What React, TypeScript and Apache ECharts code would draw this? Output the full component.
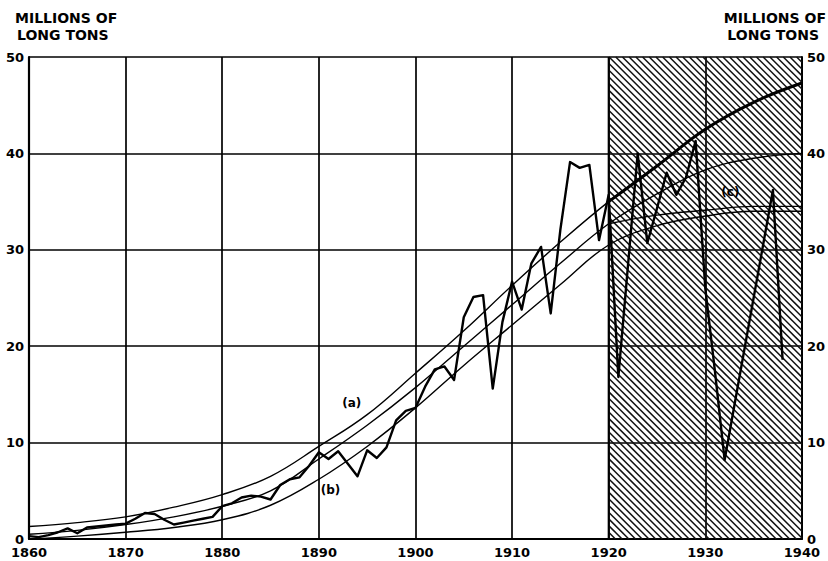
import React, { useEffect, useRef } from 'react';
import * as echarts from 'echarts';

// ---- data ----
const years = [
  1860, 1861, 1862, 1863, 1864, 1865, 1866, 1867, 1868, 1869,
  1870, 1871, 1872, 1873, 1874, 1875, 1876, 1877, 1878, 1879,
  1880, 1881, 1882, 1883, 1884, 1885, 1886, 1887, 1888, 1889,
  1890, 1891, 1892, 1893, 1894, 1895, 1896, 1897, 1898, 1899,
  1900, 1901, 1902, 1903, 1904, 1905, 1906, 1907, 1908, 1909,
  1910, 1911, 1912, 1913, 1914, 1915, 1916, 1917, 1918, 1919,
  1920, 1921, 1922, 1923, 1924, 1925, 1926, 1927, 1928, 1929,
  1930, 1931, 1932, 1933, 1934, 1935, 1936, 1937, 1938,
];
const tonnage = [
  0.3, 0.2, 0.4, 0.7, 1.1, 0.6, 1.2, 1.3, 1.4, 1.5,
  1.6, 2.1, 2.7, 2.6, 2.0, 1.5, 1.7, 1.9, 2.1, 2.3,
  3.4, 3.7, 4.3, 4.5, 4.4, 4.1, 5.6, 6.2, 6.4, 7.6,
  9.0, 8.3, 9.1, 7.8, 6.5, 9.2, 8.4, 9.5, 12.3, 13.3,
  13.6, 15.8, 17.6, 17.9, 16.5, 23.0, 25.1, 25.3, 15.6, 22.5,
  26.7, 23.8, 28.6, 30.3, 23.4, 32.1, 39.1, 38.5, 38.8, 31.0,
  35.7, 16.8, 28.4, 40.0, 30.7, 34.3, 38.0, 35.7, 37.5, 41.3,
  26.0, 17.4, 8.2, 13.8, 19.4, 25.0, 30.6, 36.2, 18.6,
];

const curveYears = [1860, 1865, 1870, 1875, 1880, 1885, 1890, 1895, 1900, 1905, 1910, 1915, 1920, 1925, 1930, 1935, 1940];
const curveA = [1.3, 1.7, 2.3, 3.3, 4.6, 6.5, 9.6, 12.9, 17.2, 21.6, 26.3, 30.8, 35.0, 38.7, 42.5, 45.3, 47.3];
const curveMid = [0.5, 0.9, 1.5, 2.3, 3.4, 5.0, 8.3, 11.8, 15.7, 20.0, 24.3, 28.6, 32.7, 35.8, 38.3, 39.5, 40.0];
const curveB = [0.0, 0.3, 0.7, 1.2, 2.0, 3.5, 6.2, 9.6, 13.6, 18.0, 22.2, 26.4, 30.5, 32.5, 33.5, 34.0, 34.0];
const branchYears = [1920, 1925, 1930, 1935, 1940];
const curveC = [32.7, 33.6, 34.1, 34.5, 34.5];

const hatchRange = [1920, 1940];
const xTicks = { min: 1860, max: 1940, step: 10 };
const yTicks = { min: 0, max: 50, step: 10 };

const annotations: [number, number, string][] = [
  [1893.4, 14.1, '(a)'],
  [1891.2, 5.1, '(b)'],
  [1932.6, 36.0, '(c)'],
];

const FONT = '"DejaVu Sans", "Liberation Sans", sans-serif';

const pairs = (xs: number[], ys: number[]) => xs.map((x, i) => [x, ys[i]]);

export default function App() {
  const ref = useRef<HTMLDivElement>(null);

  useEffect(() => {
    if (!ref.current) return;
    const chart = echarts.init(ref.current, null, { renderer: 'svg' });

    const axisLabel = {
      color: '#000',
      fontFamily: FONT,
      fontWeight: 'bold' as const,
      fontSize: 13,
    };

    const curveStyle = (w: number) => ({ color: '#000', width: w });

    const option: any = {
      animation: false,
      backgroundColor: '#fff',
      grid: { left: 29, right: 25, top: 57, bottom: 22, containLabel: false },
      xAxis: {
        type: 'value',
        min: xTicks.min,
        max: xTicks.max,
        interval: xTicks.step,
        axisLine: { show: true, onZero: false, lineStyle: { color: '#000', width: 2 } },
        axisTick: { show: false },
        splitLine: { show: true, lineStyle: { color: '#000', width: 1.7 } },
        axisLabel: { ...axisLabel, margin: 7, formatter: (v: number) => String(v) },
      },
      yAxis: [
        {
          type: 'value',
          position: 'left',
          min: yTicks.min,
          max: yTicks.max,
          interval: yTicks.step,
          axisLine: { show: true, lineStyle: { color: '#000', width: 2.2 } },
          axisTick: { show: false },
          splitLine: { show: true, lineStyle: { color: '#000', width: 1.7 } },
          axisLabel: { ...axisLabel, margin: 5, padding: [0, 0, 3, 0] },
        },
        {
          type: 'value',
          position: 'right',
          min: yTicks.min,
          max: yTicks.max,
          interval: yTicks.step,
          axisLine: { show: true, lineStyle: { color: '#000', width: 2 } },
          axisTick: { show: false },
          splitLine: { show: false },
          axisLabel: { ...axisLabel, margin: 5, padding: [0, 0, 3, 0] },
        },
      ],
      graphic: [
        { type: 'text', left: 15, top: 11, style: { text: 'MILLIONS OF', font: `bold 14px ${FONT}`, fill: '#000' } },
        { type: 'text', left: 17, top: 28, style: { text: 'LONG TONS', font: `bold 14px ${FONT}`, fill: '#000' } },
        { type: 'text', right: 2, top: 11, style: { text: 'MILLIONS OF', font: `bold 14px ${FONT}`, fill: '#000' } },
        { type: 'text', right: 9, top: 28, style: { text: 'LONG TONS', font: `bold 14px ${FONT}`, fill: '#000' } },
      ],
      series: [
        {
          type: 'custom',
          name: 'hatch',
          silent: true,
          z: 1,
          clip: false,
          encode: { x: [0, 1] },
          data: [hatchRange],
          renderItem: (params: any, api: any) => {
            const p1 = api.coord([api.value(0), yTicks.max]);
            const p2 = api.coord([api.value(1), yTicks.min]);
            const L = p1[0], T = p1[1], R = p2[0], B = p2[1];
            const H = B - T;
            const step = 6.7;
            const children: any[] = [];
            for (let c = L - H; c < R; c += step) {
              const x1 = Math.max(L, c);
              const x2 = Math.min(R, c + H);
              if (x2 <= x1) continue;
              children.push({
                type: 'line',
                shape: { x1, y1: T + (x1 - c), x2, y2: T + (x2 - c) },
                style: { stroke: '#111', lineWidth: 1.5 },
              });
            }
            children.push({
              type: 'line',
              shape: { x1: L, y1: T, x2: L, y2: B },
              style: { stroke: '#000', lineWidth: 2 },
            });
            return { type: 'group', children };
          },
        },
        {
          type: 'line',
          name: 'curve a',
          z: 3,
          data: pairs(curveYears, curveA),
          smooth: 0.4,
          showSymbol: false,
          lineStyle: curveStyle(1.4),
        },
        {
          type: 'line',
          name: 'curve a projection',
          z: 3,
          data: pairs(curveYears, curveA).filter((p) => p[0] >= hatchRange[0]),
          smooth: 0.4,
          showSymbol: false,
          lineStyle: curveStyle(3),
        },
        {
          type: 'line',
          name: 'middle curve',
          z: 3,
          data: pairs(curveYears, curveMid),
          smooth: 0.4,
          showSymbol: false,
          lineStyle: curveStyle(1.4),
        },
        {
          type: 'line',
          name: 'curve b',
          z: 3,
          data: pairs(curveYears, curveB),
          smooth: 0.4,
          showSymbol: false,
          lineStyle: curveStyle(1.4),
        },
        {
          type: 'line',
          name: 'curve c',
          z: 3,
          data: pairs(branchYears, curveC),
          smooth: 0.4,
          showSymbol: false,
          lineStyle: curveStyle(1.4),
        },
        {
          type: 'line',
          name: 'consumption',
          z: 4,
          data: pairs(years, tonnage),
          showSymbol: false,
          lineStyle: { color: '#000', width: 2.4, join: 'round' },
        },
        {
          type: 'scatter',
          name: 'labels',
          z: 5,
          silent: true,
          symbolSize: 1,
          itemStyle: { color: 'rgba(0,0,0,0)' },
          data: annotations,
          label: {
            show: true,
            position: 'inside',
            formatter: (p: any) => p.data[2],
            color: '#000',
            opacity: 1,
            fontFamily: FONT,
            fontWeight: 'bold',
            fontSize: 12,
            backgroundColor: 'transparent',
          },
        },
      ],
    };

    chart.setOption(option);
    return () => chart.dispose();
  }, []);

  return (
    <div
      ref={ref}
      style={{ position: 'absolute', left: 0, top: 0, width: 828, height: 561, background: '#fff' }}
    />
  );
}
